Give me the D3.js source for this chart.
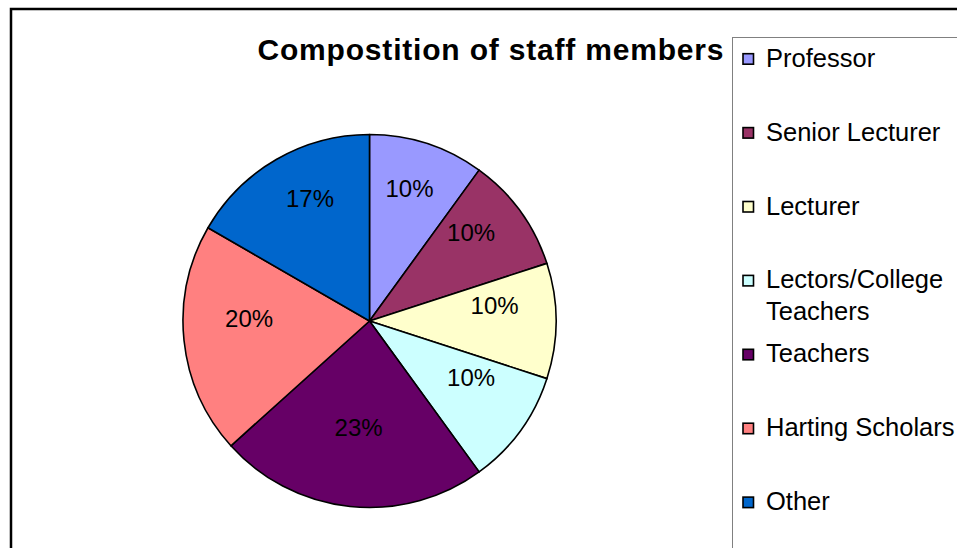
<!DOCTYPE html>
<html>
<head>
<meta charset="utf-8">
<script src="https://cdn.jsdelivr.net/npm/d3@7"></script>
<style>
  body { margin: 0; background: #fff; }
  svg { display: block; font-family: "Liberation Sans", Arial, sans-serif; }
</style>
</head>
<body>
<div id="vis"></div>
<script>
// staff composition (head counts)
var categories = ['Professor', 'Senior Lecturer', 'Lecturer', 'Lectors/College Teachers',
                  'Teachers', 'Harting Scholars', 'Other'];
var counts = [3, 3, 3, 3, 7, 6, 5];
var colours = ['#9999ff', '#993366', '#ffffcc', '#ccffff', '#660066', '#ff8080', '#0066cc'];
var title = 'Compostition of staff members';

var width = 957;
var height = 548;

var center = { x: 369.5, y: 321 };
var radius = 186.5;

var svg = d3.select('#vis')
  .append('svg')
  .attr('width', width)
  .attr('height', height);

// outer chart frame
svg.append('rect')
  .attr('x', 11).attr('y', 9)
  .attr('width', 1000).attr('height', 600)
  .attr('fill', '#fff')
  .attr('stroke', '#000')
  .attr('stroke-width', 2.5);

// title
svg.append('text')
  .attr('x', 490.5)
  .attr('y', 60)
  .attr('text-anchor', 'middle')
  .attr('font-size', 30)
  .attr('font-weight', 'bold')
  .attr('textLength', 466)
  .attr('lengthAdjust', 'spacing')
  .text(title);

var total = d3.sum(counts);
var data = categories.map(function (c, i) {
  return { name: c, value: counts[i], colour: colours[i] };
});

var pie = d3.pie()
  .sort(null)
  .value(function (d) { return d.value; });

var arc = d3.arc().innerRadius(0).outerRadius(radius);
var labelArc = d3.arc().innerRadius(radius * 0.66).outerRadius(radius * 0.66);

var g = svg.append('g')
  .attr('transform', 'translate(' + center.x + ',' + center.y + ')');

var slices = g.selectAll('.slice')
  .data(pie(data))
  .enter().append('g')
  .attr('class', 'slice');

slices.append('path')
  .attr('d', arc)
  .attr('fill', function (d) { return d.data.colour; })
  .attr('stroke', '#000')
  .attr('stroke-width', 1.6)
  .attr('stroke-linejoin', 'round');

slices.append('text')
  .attr('transform', function (d) {
    var c = labelArc.centroid(d);
    return 'translate(' + (c[0] + 2) + ',' + c[1] + ')';
  })
  .attr('dy', '-0.3em')
  .attr('text-anchor', 'middle')
  .attr('font-size', 24)
  .attr('fill', '#000')
  .text(function (d) { return Math.round(d.data.value / total * 100) + '%'; });

// legend
var legendX = 732.5;
var legendY = 37.5;
var firstBaseline = 66.7;
var step = 73.9;
var wrapWidth = 200;

svg.append('rect')
  .attr('x', legendX).attr('y', legendY)
  .attr('width', 400).attr('height', 600)
  .attr('fill', '#fff')
  .attr('stroke', '#808080')
  .attr('stroke-width', 1);

var legend = svg.append('g').attr('class', 'legend');

var items = legend.selectAll('.item')
  .data(data)
  .enter().append('g')
  .attr('class', 'item')
  .attr('transform', function (d, i) {
    return 'translate(0,' + (firstBaseline + i * step) + ')';
  });

items.append('rect')
  .attr('x', 743)
  .attr('y', -13)
  .attr('width', 10.5)
  .attr('height', 10.5)
  .attr('fill', function (d) { return d.colour; })
  .attr('stroke', '#000')
  .attr('stroke-width', 1.6);

items.append('text')
  .attr('x', 766)
  .attr('font-size', 25.5)
  .attr('fill', '#000')
  .each(function (d) {
    // wrap long legend labels onto more lines
    var text = d3.select(this);
    var words = d.name.split(' ');
    var line = [];
    var lineNo = 0;
    var tspan = text.append('tspan').attr('x', 766).attr('y', 0);
    words.forEach(function (w) {
      line.push(w);
      tspan.text(line.join(' '));
      if (tspan.node().getComputedTextLength() > wrapWidth && line.length > 1) {
        line.pop();
        tspan.text(line.join(' '));
        line = [w];
        lineNo++;
        tspan = text.append('tspan').attr('x', 766).attr('y', lineNo * 32).text(w);
      }
    });
  });
</script>
</body>
</html>
